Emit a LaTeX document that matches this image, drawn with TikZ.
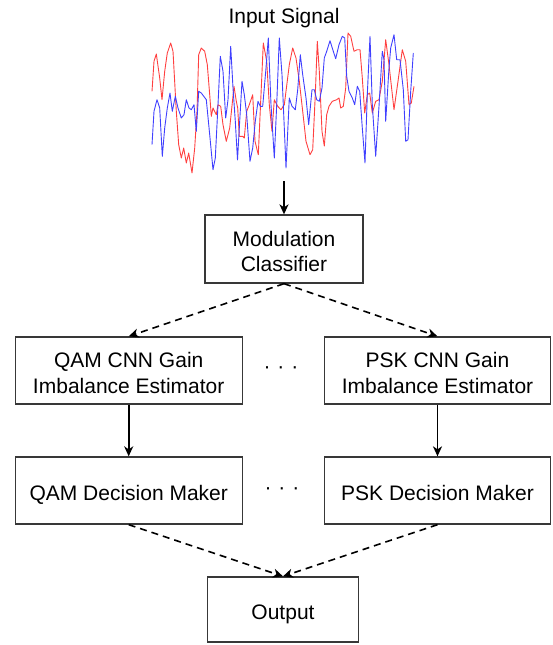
\documentclass[tikz,border=0pt]{standalone}
\usepackage{fontspec}
\setmainfont{Liberation Sans}
\usetikzlibrary{arrows.meta}
\begin{document}
\begin{tikzpicture}[x=1pt,y=-1pt,
  every node/.style={font=\fontsize{21}{25.5}\selectfont, inner sep=0pt},
  blockbox/.style={draw=black!78, line width=1.3pt, align=center, rectangle},
  twoline/.style={text height=45pt, text depth=0pt},
  oneline/.style={text height=20pt, text depth=0pt},
  solidarrow/.style={-{Stealth[length=10pt,width=9pt,inset=3pt]}, line width=1.7pt, black},
  dasharrow/.style={-{Stealth[length=10pt,width=9pt,inset=3pt]}, line width=1.6pt, black, dash pattern=on 7pt off 5pt},
  sigred/.style={draw=red!75, line width=0.9pt, line join=round},
  sigblue/.style={draw=blue!75, line width=0.9pt, line join=round}]
\useasboundingbox (0,0) rectangle (552,645);

\node (title) at (284,18) {Input Signal};

% signal traces
\draw[sigred] (152,91.3)--(154,61.3)--(156.3,54)--(159.7,78)--(162,99.7)--(164.7,71.3)--(167.3,53)--(170.7,43)--(173,51.3)--(176.3,111.3)--(178.7,144.7)--(181.3,158)--(183.7,148)--(186.3,163)--(188.7,153)--(192,173)--(194.7,148)--(197,111.3)--(198.7,54.7)--(201.3,48)--(204.7,51.3)--(207.3,64.7)--(209.7,94.7)--(211.3,116.3)--(213,108)--(216.3,114.7)--(218,104.7)--(220.7,106.3)--(223,124.7)--(226.3,141.3)--(229.7,128)--(234,86.3)--(236.3,101.3)--(237.7,108)--(239.3,136.3)--(242.7,136.3)--(244.3,138)--(246.7,111.3)--(249.3,104.7)--(252.7,94.7)--(255,141.3)--(258.3,154.7)--(263.3,43)--(266.7,61.3)--(269.3,104.7)--(272,131.3)--(274.3,99.7)--(277.7,106.3)--(281,109.7)--(284.3,104.7)--(289.3,64.7)--(292.7,48)--(296,58)--(299.3,81.3)--(302.7,111.3)--(306,141.3)--(310,154.7)--(312.7,149.7)--(315.3,94.7)--(317.3,41.3)--(319.3,71.3)--(322,131.3)--(324.3,146)--(326.7,114.7)--(329,106.3)--(332.3,101.3)--(336.7,99.7)--(339,98)--(340.7,108)--(343.3,106.3)--(345.7,88)--(348,33)--(350.7,36.3)--(354,51.3)--(357.3,49.7)--(360,49.7)--(362.3,78)--(364.7,113)--(367.3,94.7)--(369.7,93)--(372.3,113)--(375.7,101.3)--(379,99.7)--(382.3,81.3)--(385.7,39.7)--(389,64.7)--(394,109.7)--(398,81.3)--(402.3,49.7)--(405.7,61.3)--(409,104.7)--(411.3,103)--(414,86.3);
\draw[sigblue] (152,144.7)--(154,111.3)--(157,99.7)--(159.7,108)--(162.3,156.3)--(164.7,128)--(167.3,108)--(170,93)--(172.3,111.3)--(175.3,96.3)--(178,108)--(181.3,118)--(184,114.7)--(186.3,99.7)--(189,108)--(191.3,109.7)--(194,104.7)--(196.3,131.3)--(198.7,91.3)--(201.3,93)--(206.3,99.7)--(209.7,134.7)--(213,169.7)--(215.3,158)--(218,104.7)--(220.3,56.3)--(223,71.3)--(225.7,118)--(228,99.7)--(230.7,46.3)--(233,88)--(235.3,121.3)--(237.5,160)--(239.3,128)--(242,81.3)--(244.3,94.7)--(246.7,114.7)--(250,161.3)--(252.7,148)--(255.3,121.3)--(258,101.3)--(260.3,106.3)--(262.7,106.3)--(266,68)--(268.3,38)--(271,104.7)--(274.3,158)--(276.7,104.7)--(279.3,38)--(282,74.7)--(284.3,128)--(286,168)--(289.3,98)--(292,106.3)--(295.3,109.7)--(297.7,89.7)--(300.3,54.7)--(302.7,74.7)--(306,98)--(308.7,124.7)--(312,89.7)--(314.3,89.7)--(316.7,99.7)--(319.3,101.3)--(322,88)--(324.3,58)--(326.7,51.3)--(330,40.7)--(333.3,51.3)--(335.7,58.7)--(339,44.7)--(342.3,36.3)--(344.7,38)--(346.7,76.3)--(349,91.3)--(352.3,98)--(354.7,104.7)--(357.3,86.3)--(359.7,91.3)--(362.3,128)--(365,163)--(367.3,94.7)--(370,36.3)--(372.3,104.7)--(375.7,156.3)--(379,106.3)--(382.3,51.3)--(384,59.7)--(385.7,121.3)--(389,68)--(390.7,48)--(394,34.7)--(396.7,59.7)--(400,59.7)--(403.3,89.7)--(405.7,141.3)--(408,139.7)--(410.7,91.3)--(413.3,53);

\coordinate (sigbot) at (284,181);

\node[blockbox, twoline, minimum width=158pt, minimum height=68pt] (mod) at (284,249) {Modulation\\Classifier};
\node[blockbox, twoline, minimum width=227pt, minimum height=67pt] (qam) at (128.7,370.5) {QAM CNN Gain\\Imbalance Estimator};
\node[blockbox, twoline, minimum width=226pt, minimum height=67pt] (psk) at (437.5,370.5) {PSK CNN Gain\\Imbalance Estimator};
\node[blockbox, oneline, minimum width=227pt, minimum height=67pt] (qamd) at (128.7,490.5) {QAM Decision Maker};
\node[blockbox, oneline, minimum width=226pt, minimum height=67pt] (pskd) at (437.5,490.5) {PSK Decision Maker};
\node[blockbox, oneline, minimum width=151pt, minimum height=65pt] (out) at (283,609.5) {Output};

\node (dots1) at (281,370) {·\,\,·\,\,·};
\node (dots2) at (282,491) {·\,\,·\,\,·};

\draw[solidarrow] (sigbot) -- (mod.north);
\draw[dasharrow] (mod.south) -- (qam.north);
\draw[dasharrow] (mod.south) -- (psk.north);
\draw[solidarrow] (qam.south) -- (qamd.north);
\draw[solidarrow] (psk.south) -- (pskd.north);
\draw[dasharrow] (qamd.south) -- (out.north);
\draw[dasharrow] (pskd.south) -- (out.north);
\end{tikzpicture}
\end{document}
